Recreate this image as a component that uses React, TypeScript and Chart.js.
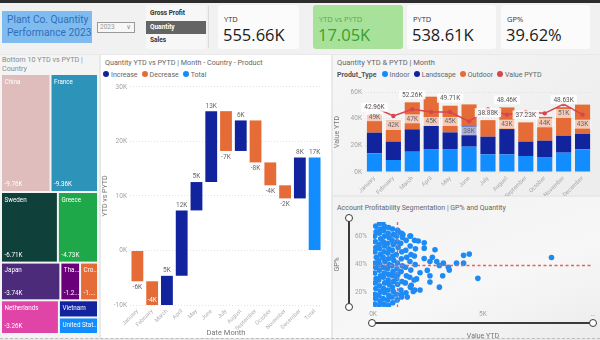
import React, { useEffect, useRef } from "react";
import { Chart, registerables } from "chart.js";
Chart.register(...registerables);

const FONT = "Roboto, 'DejaVu Sans', sans-serif";

// ---------- DATA ----------
const months = ["January", "February", "March", "April", "May", "June", "July", "August", "September", "October", "November", "December"];

// Waterfall: YTD vs PYTD monthly change (K)
const wfCategories = [...months, "Total"];
const wfDeltas = [-5.65, -4.4, 5.4, 12, 5.2, 13, -7.3, 5.6, -7.7, -4.2, -2.4, 7.5];
const wfTotal = 17.05;

// Stacked bars: YTD quantity by product type (K)
const indoor = [14, 9, 15.2, 17.2, 17.2, 19, 13.2, 13.2, 12, 10.8, 14.5, 17];
const landscape = [15.5, 13.8, 16.8, 17.5, 12.5, 15.7, 13.3, 19, 10.8, 12.7, 12.7, 11.5];
const outdoor = [13.46, 15.7, 20.26, 21.8, 20.01, 16, 12.38, 16.26, 14.43, 17.8, 21.43, 22.03];
const pytd = [48.6, 42, 47, 45, 45, 38, 47, 43, 45, 44, 51, 43];
const totalLabelShown = [true, false, true, false, true, false, true, true, true, false, true, false];
const pytdLabelShown = [true, true, true, true, true, true, false, true, false, true, true, true];

// Treemap: bottom 10 countries YTD vs PYTD (K)
const countries = ["China", "France", "Sweden", "Greece", "Japan", "Thailand", "Croatia", "Netherlands", "Vietnam", "United States"];
const countryDelta = [-9.76, -9.36, -6.71, -4.73, -3.74, -1.24, -1.13, -3.26, -1.12, -1.08];
const countryColors = ["#dfbdbd", "#2e93b9", "#10403a", "#1ea84a", "#4c2b7a", "#6b007b", "#e66c37", "#e044a7", "#12239e", "#118dff"];
const treemapRows: (number | number[])[][] = [[0, 1], [2, 3], [4, 5, 6], [7, [8, 9]]];

// Scatter: value YTD (K) vs GP%
const scatterPoints: [number, number][] = [
  [0.08, 12], [0.12, 16], [0.09, 19], [0.13, 23], [0.1, 27], [0.14, 30], [0.08, 34], [0.12, 38], [0.1, 41], [0.15, 45], [0.09, 49], [0.13, 52], [0.11, 56], [0.08, 60], [0.14, 63], [0.12, 67],
  [0.28, 11], [0.32, 14], [0.27, 18], [0.33, 21], [0.3, 25], [0.26, 29], [0.34, 32], [0.29, 36], [0.31, 40], [0.27, 43], [0.33, 47], [0.3, 51], [0.28, 54], [0.35, 58], [0.29, 62], [0.32, 65], [0.3, 69],
  [0.5, 12], [0.46, 16], [0.52, 20], [0.48, 23], [0.53, 27], [0.47, 31], [0.51, 34], [0.49, 38], [0.54, 42], [0.46, 45], [0.5, 49], [0.52, 53], [0.47, 56], [0.53, 60], [0.49, 64], [0.51, 67], [0.45, 70],
  [0.7, 11], [0.67, 15], [0.72, 18], [0.68, 22], [0.73, 26], [0.69, 29], [0.71, 33], [0.66, 37], [0.74, 40], [0.7, 44], [0.68, 48], [0.72, 51], [0.67, 55], [0.73, 59], [0.69, 62], [0.71, 66],
  [0.9, 13], [0.87, 17], [0.92, 21], [0.88, 24], [0.93, 28], [0.89, 32], [0.91, 35], [0.86, 39], [0.94, 43], [0.9, 46], [0.88, 50], [0.92, 54], [0.87, 57], [0.93, 61], [0.89, 65],
  [1.1, 15], [1.07, 19], [1.12, 26], [1.08, 30], [1.13, 33], [1.09, 37], [1.11, 41], [1.06, 47], [1.14, 52], [1.1, 56], [1.08, 60], [1.12, 64],
  [1.3, 17], [1.27, 22], [1.32, 28], [1.28, 35], [1.33, 39], [1.29, 44], [1.31, 49], [1.26, 55], [1.34, 59], [1.3, 62],
  [1.5, 20], [1.47, 27], [1.52, 32], [1.48, 38], [1.53, 45], [1.49, 50], [1.51, 57],
  [1.7, 24], [1.67, 31], [1.72, 36], [1.68, 42], [1.73, 47], [1.69, 53], [1.71, 60],
  [1.9, 22], [1.87, 29], [1.92, 40], [1.88, 46], [1.93, 51], [1.89, 57],
  [1.56, 17], [1.3, 18.7], [1.74, 25.3], [1.83, 21], [1.98, 29.8], [2.14, 22], [2.14, 34.2], [2.06, 56.5], [1.68, 60], [1.36, 61], [1.15, 63],
  [2.33, 55.3], [2.33, 51.5], [2.33, 44.2], [2.47, 35.8], [2.59, 42], [2.59, 32], [2.59, 27.6], [2.82, 50.4], [2.7, 45], [2.9, 42],
  [3.02, 24], [3.02, 39.3], [3.17, 32], [3.2, 40.9], [3.43, 38], [3.47, 36], [3.8, 40.9], [4.12, 40.9], [4.12, 46.4], [4.38, 47.3], [4.77, 30.2], [8.12, 44.9],
];
const avgValueK = 1.08;
const avgGP = 39.62;

// KPI cards
const kpiLabels = ["YTD", "YTD vs PYTD", "PYTD", "GP%"];
const kpiValues = ["555.66K", "17.05K", "538.61K", "39.62%"];
const slicerOptions = ["Gross Profit", "Quantity", "Sales"];

// ---------- COLORS ----------
const C_INC = "#12239e";
const C_DEC = "#e66c37";
const C_TOT = "#118dff";
const C_IND = "#118dff";
const C_LAN = "#12239e";
const C_OUT = "#e66c37";
const C_PY = "#d64550";
const TICK = "#a3a3a3";

// ---------- CHART CONFIGS ----------
function waterfallConfig(): any {
  const floating: number[][] = [];
  const colors: string[] = [];
  let run = 0;
  wfDeltas.forEach((d) => {
    floating.push([run, run + d]);
    colors.push(d >= 0 ? C_INC : C_DEC);
    run += d;
  });
  floating.push([0, wfTotal]);
  colors.push(C_TOT);
  const labelPlugin = {
    id: "wfLabels",
    afterDatasetsDraw(chart: any) {
      const { ctx, chartArea } = chart;
      const meta = chart.getDatasetMeta(0);
      ctx.save();
      ctx.font = `6.5px ${FONT}`;
      ctx.textAlign = "center";
      meta.data.forEach((bar: any, i: number) => {
        const [a, b] = chart.data.datasets[0].data[i];
        const d = b - a;
        const txt = Math.round(d) + "K";
        const top = Math.min(bar.y, bar.base);
        const bottom = Math.max(bar.y, bar.base);
        if (d >= 0) {
          ctx.fillStyle = "#666";
          ctx.textBaseline = "bottom";
          ctx.fillText(txt, bar.x, top - 2);
        } else if (bottom + 11 > chartArea.bottom) {
          ctx.fillStyle = "#fff";
          ctx.textBaseline = "bottom";
          ctx.fillText(txt, bar.x, bottom - 2);
        } else {
          ctx.fillStyle = "#666";
          ctx.textBaseline = "top";
          ctx.fillText(txt, bar.x, bottom + 3);
        }
      });
      ctx.restore();
    },
  };
  return {
    type: "bar",
    data: {
      labels: wfCategories,
      datasets: [{ data: floating, backgroundColor: colors, barPercentage: 0.8, categoryPercentage: 1, borderSkipped: false }],
    },
    options: {
      animation: false,
      responsive: true,
      maintainAspectRatio: false,
      layout: { padding: { top: 6, right: 9, left: 0, bottom: 0 } },
      plugins: { legend: { display: false }, tooltip: { enabled: false } },
      scales: {
        x: {
          grid: { display: false, drawTicks: false },
          border: { display: false },
          ticks: { autoSkip: false, minRotation: 45, maxRotation: 45, font: { size: 5.6, family: FONT }, color: "#b0b0b0", padding: 3 },
          title: { display: true, text: "Date Month", font: { size: 7.5, family: FONT }, color: "#777", padding: 0 },
          afterFit: (s: any) => { s.height = 33; },
        },
        y: {
          min: -10,
          max: 30,
          ticks: { stepSize: 10, callback: (v: any) => v + "K", font: { size: 6.5, family: FONT }, color: TICK, padding: 3 },
          grid: { color: "#e2e2e2", drawTicks: false },
          border: { display: false, dash: [1, 2] },
          title: { display: true, text: "YTD vs PYTD", font: { size: 7, family: FONT }, color: "#777", padding: 0 },
          afterFit: (s: any) => { s.width = 29; },
        },
      },
    },
    plugins: [labelPlugin],
  };
}

function stackedConfig(): any {
  const labelPlugin = {
    id: "stackLabels",
    afterDatasetsDraw(chart: any) {
      const { ctx } = chart;
      ctx.save();
      ctx.font = `6.5px ${FONT}`;
      ctx.textAlign = "center";
      ctx.textBaseline = "middle";
      const lineMeta = chart.getDatasetMeta(3);
      lineMeta.data.forEach((pt: any, i: number) => {
        if (!pytdLabelShown[i]) return;
        const txt = Math.round(pytd[i]) + "K";
        const w = ctx.measureText(txt).width + 6;
        ctx.fillStyle = "rgba(255,255,255,0.65)";
        ctx.fillRect(pt.x - w / 2, pt.y + 5, w, 9);
        ctx.fillStyle = "#666";
        ctx.fillText(txt, pt.x, pt.y + 9.8);
      });
      const topMeta = chart.getDatasetMeta(2);
      topMeta.data.forEach((bar: any, i: number) => {
        if (!totalLabelShown[i]) return;
        const tot = indoor[i] + landscape[i] + outdoor[i];
        const txt = tot.toFixed(2) + "K";
        const w = ctx.measureText(txt).width + 6;
        ctx.fillStyle = "rgba(255,255,255,0.85)";
        ctx.fillRect(bar.x - w / 2, bar.y - 12, w, 9);
        ctx.fillStyle = "#555";
        ctx.fillText(txt, bar.x, bar.y - 7.2);
      });
      ctx.restore();
    },
  };
  const bar = (label: string, data: number[], color: string) => ({
    type: "bar", label, data, backgroundColor: color, stack: "ytd", order: 1, barPercentage: 0.8, categoryPercentage: 1,
  });
  return {
    type: "bar",
    data: {
      labels: months,
      datasets: [
        bar("Indoor", indoor, C_IND),
        bar("Landscape", landscape, C_LAN),
        bar("Outdoor", outdoor, C_OUT),
        { type: "line", label: "Value PYTD", data: pytd, stack: "pytd", order: 0, borderColor: C_PY, backgroundColor: C_PY, borderWidth: 1.5, pointRadius: 2.2, pointBorderWidth: 0, tension: 0 },
      ],
    },
    options: {
      animation: false,
      responsive: true,
      maintainAspectRatio: false,
      layout: { padding: { top: 10, right: 6, left: 0, bottom: 0 } },
      plugins: { legend: { display: false }, tooltip: { enabled: false } },
      scales: {
        x: {
          stacked: true,
          grid: { display: false, drawTicks: false },
          border: { display: false },
          ticks: { autoSkip: false, minRotation: 45, maxRotation: 45, font: { size: 5.8, family: FONT }, color: "#a8a8a8", padding: 3 },
          afterFit: (s: any) => { s.height = 24; },
        },
        y: {
          stacked: true,
          min: 0,
          max: 60,
          ticks: { stepSize: 20, callback: (v: any) => v + "K", font: { size: 6.5, family: FONT }, color: TICK, padding: 3 },
          grid: { color: "#e0e0e0", drawTicks: false },
          border: { display: false, dash: [1, 2] },
          title: { display: true, text: "Value YTD", font: { size: 7, family: FONT }, color: "#777", padding: 0 },
          afterFit: (s: any) => { s.width = 32; },
        },
      },
    },
    plugins: [labelPlugin],
  };
}

function scatterConfig(): any {
  const avgPlugin = {
    id: "avgLines",
    afterDatasetsDraw(chart: any) {
      const { ctx, chartArea, scales } = chart;
      ctx.save();
      ctx.strokeStyle = "#f25c57";
      ctx.lineWidth = 1.3;
      ctx.setLineDash([3, 2.5]);
      const px = Math.round(scales.x.getPixelForValue(avgValueK)) + 0.5;
      ctx.beginPath();
      ctx.moveTo(px, chartArea.top);
      ctx.lineTo(px, chartArea.bottom);
      ctx.stroke();
      const py = Math.round(scales.y.getPixelForValue(avgGP)) + 0.5;
      ctx.beginPath();
      ctx.moveTo(chartArea.left, py);
      ctx.lineTo(chartArea.right, py);
      ctx.stroke();
      ctx.restore();
    },
  };
  return {
    type: "scatter",
    data: {
      datasets: [{ data: scatterPoints.map(([x, y]) => ({ x, y })), backgroundColor: "#1e8bf5", pointRadius: 2.8, pointBorderWidth: 0 }],
    },
    options: {
      animation: false,
      responsive: true,
      maintainAspectRatio: false,
      layout: { padding: { top: 6, right: 5, left: 0, bottom: 0 } },
      plugins: { legend: { display: false }, tooltip: { enabled: false } },
      scales: {
        x: {
          type: "linear",
          min: 0,
          max: 10,
          grid: { display: false, drawTicks: false },
          border: { display: false },
          afterBuildTicks: (s: any) => { s.ticks = [{ value: 0 }, { value: 5 }, { value: 10 }]; },
          ticks: { autoSkip: false, callback: (v: any) => (v === 10 ? "…" : v + "K"), font: { size: 6.5, family: FONT }, color: TICK, padding: 3, maxRotation: 0 },
          title: { display: true, text: "Value YTD", font: { size: 7, family: FONT }, color: "#777", padding: 0 },
          afterFit: (s: any) => { s.height = 33; },
        },
        y: {
          min: 10,
          max: 70,
          grid: { display: false, drawTicks: false },
          border: { display: false },
          afterBuildTicks: (s: any) => { s.ticks = [{ value: 20 }, { value: 40 }, { value: 60 }]; },
          ticks: { autoSkip: false, callback: (v: any) => v + "%", font: { size: 6.5, family: FONT }, color: TICK, padding: 6 },
          title: { display: true, text: "GP%", font: { size: 7, family: FONT }, color: "#777", padding: 0 },
          afterFit: (s: any) => { s.width = 40; },
        },
      },
    },
    plugins: [avgPlugin],
  };
}

function treemapConfig(): any {
  const sizes = countryDelta.map((v) => Math.abs(v));
  const total = sizes.reduce((a, b) => a + b, 0);
  const plugin = {
    id: "treemap",
    afterDraw(chart: any) {
      const { ctx, scales } = chart;
      const xs = scales.x;
      const ys = scales.y;
      let y0 = 0;
      ctx.save();
      ctx.font = `6.3px ${FONT}`;
      ctx.textBaseline = "top";
      const fit = (txt: string, maxW: number) => {
        if (ctx.measureText(txt).width <= maxW) return txt;
        let t = txt;
        while (t.length > 1 && ctx.measureText(t + "...").width > maxW) t = t.slice(0, -1);
        return t + "...";
      };
      treemapRows.forEach((row) => {
        const rowSum = row.reduce((acc: number, it) => acc + (Array.isArray(it) ? it.reduce((a, i) => a + sizes[i], 0) : sizes[it]), 0);
        let x0 = 0;
        row.forEach((it) => {
          const idxs = Array.isArray(it) ? it : [it];
          const s = idxs.reduce((a, i) => a + sizes[i], 0);
          const w = s / rowSum;
          let yy = y0;
          idxs.forEach((i) => {
            const hh = rowSum * (sizes[i] / s);
            const l = xs.getPixelForValue(x0) + 1;
            const r = xs.getPixelForValue(x0 + w) - 1;
            const t = ys.getPixelForValue(yy) + 1;
            const b = ys.getPixelForValue(yy + hh) - 1;
            ctx.fillStyle = countryColors[i];
            ctx.fillRect(l, t, r - l, b - t);
            ctx.fillStyle = "#ffffff";
            ctx.fillText(fit(countries[i], r - l - 1), l + 2.5, t + 4);
            if (b - t > 24) {
              ctx.textBaseline = "bottom";
              ctx.fillText(fit(countryDelta[i].toFixed(2) + "K", r - l - 1), l + 2.5, b - 3);
              ctx.textBaseline = "top";
            }
            yy += hh;
          });
          x0 += w;
        });
        y0 += rowSum;
      });
      ctx.restore();
    },
  };
  return {
    type: "scatter",
    data: { datasets: [] },
    options: {
      animation: false,
      responsive: true,
      maintainAspectRatio: false,
      layout: { padding: 0 },
      plugins: { legend: { display: false }, tooltip: { enabled: false } },
      scales: {
        x: { type: "linear", min: 0, max: 1, display: false },
        y: { type: "linear", min: 0, max: total, reverse: true, display: false },
      },
    },
    plugins: [plugin],
  };
}

// ---------- COMPONENTS ----------
function ChartBox({ make, style }: { make: () => any; style: React.CSSProperties }) {
  const ref = useRef<HTMLCanvasElement>(null);
  useEffect(() => {
    const chart = new Chart(ref.current as HTMLCanvasElement, make());
    return () => chart.destroy();
  }, []);
  return (
    <div style={{ position: "absolute", ...style }}>
      <canvas ref={ref} />
    </div>
  );
}

const abs = (l: number, t: number, w: number, h: number): React.CSSProperties => ({ position: "absolute", left: l, top: t, width: w, height: h });

function Dot({ color }: { color: string }) {
  return <span style={{ display: "inline-block", width: 6, height: 6, borderRadius: 3, background: color, marginRight: 2, verticalAlign: "middle", position: "relative", top: -1 }} />;
}

function Legend({ left, top, title, items }: { left: number; top: number; title?: string; items: [string, string][] }) {
  return (
    <div style={{ position: "absolute", left, top, fontSize: 7, color: "#666", fontFamily: FONT, whiteSpace: "nowrap", lineHeight: "9px" }}>
      {title && <span style={{ fontWeight: 700, color: "#555", marginRight: 5 }}>{title}</span>}
      {items.map(([label, color]) => (
        <span key={label} style={{ marginRight: 4 }}>
          <Dot color={color} />
          {label}
        </span>
      ))}
    </div>
  );
}

function Kpi({ left, width, label, value, green }: { left: number; width: number; label: string; value: string; green?: boolean }) {
  return (
    <div style={{ ...abs(left, 5, width, 44), background: green ? "#a8e29a" : "#fbfbfb", borderRadius: 3 }}>
      <div style={{ position: "absolute", left: 6, top: 9, fontSize: 7.5, color: green ? "#5aa84a" : "#333", fontFamily: "'Open Sans', sans-serif" }}>{label}</div>
      <div style={{ position: "absolute", left: 5, top: 19, fontSize: 16.5, color: green ? "#3c9e2e" : "#1c1c1c", fontFamily: "'Open Sans', sans-serif", lineHeight: "22px" }}>{value}</div>
    </div>
  );
}

export default function App() {
  const panelTitle: React.CSSProperties = { position: "absolute", fontSize: 7.2, color: "#666", fontFamily: FONT, whiteSpace: "nowrap" };
  return (
    <div style={{ position: "fixed", left: 0, top: 0, width: 600, height: 340, background: "#e9e9e9", overflow: "hidden", fontFamily: FONT }}>
      {/* header */}
      <div style={{ ...abs(0, 0, 600, 54), background: "#f1f1f1" }} />
      <div style={{ ...abs(0, 0, 600, 3), background: "#2d2d2d" }} />
      <div style={{ ...abs(2, 11, 90, 32), background: "#80bbf0", color: "#2f6fb6", fontSize: 10.2, lineHeight: "12.5px", padding: "3px 0 0 5px", boxSizing: "border-box", fontFamily: FONT, whiteSpace: "nowrap" }}>
        Plant Co. Quantity
        <br />
        Performance 2023
      </div>
      <div style={{ ...abs(97, 22, 38, 11), border: "1px solid #9a9a9a", boxSizing: "border-box", background: "#f7f7f7", fontSize: 6.5, color: "#999", lineHeight: "9px", paddingLeft: 2 }}>
        2023<span style={{ position: "absolute", right: 3, top: 0, color: "#888" }}>∨</span>
      </div>
      <div style={{ ...abs(146, 5, 60, 44), background: "#f7f7f7" }}>
        {slicerOptions.map((o, i) => (
          <div key={o} style={{ ...abs(0, 2 + i * 13.5, 60, 13), background: o === "Quantity" ? "#646464" : "transparent", color: o === "Quantity" ? "#fff" : "#333", fontSize: 6.5, fontWeight: 700, lineHeight: "13px", paddingLeft: 4, boxSizing: "border-box" }}>
            {o}
          </div>
        ))}
      </div>
      <div style={{ ...abs(208, 6, 1, 42), background: "#dcdcdc" }} />
      <Kpi left={218} width={81} label={kpiLabels[0]} value={kpiValues[0]} />
      <Kpi left={313} width={90} label={kpiLabels[1]} value={kpiValues[1]} green />
      <Kpi left={407} width={89} label={kpiLabels[2]} value={kpiValues[2]} />
      <Kpi left={501} width={89} label={kpiLabels[3]} value={kpiValues[3]} />

      {/* left treemap panel */}
      <div style={{ ...abs(0, 55, 99, 283), background: "#f4f4f4" }} />
      <div style={{ ...panelTitle, left: 2, top: 56, color: "#8a8a8a", lineHeight: "8.5px" }}>
        Bottom 10 YTD vs PYTD |
        <br />
        Country
      </div>
      <ChartBox make={treemapConfig} style={abs(1, 74, 97, 260)} />

      {/* middle waterfall panel */}
      <div style={{ ...abs(101, 55, 230, 283), background: "#ffffff" }} />
      <div style={{ ...panelTitle, left: 105, top: 58 }}>Quantity YTD vs PYTD | Month - Country - Product</div>
      <Legend left={103} top={71} items={[["Increase", C_INC], ["Decrease", C_DEC], ["Total", C_TOT]]} />
      <ChartBox make={waterfallConfig} style={abs(101, 80, 230, 258)} />

      {/* right top */}
      <div style={{ ...abs(333, 55, 267, 140), background: "linear-gradient(135deg,#f6f6f6,#ededed)" }} />
      <div style={{ ...panelTitle, left: 337, top: 58, fontSize: 7.5 }}>Quantity YTD &amp; PYTD | Month</div>
      <Legend left={337} top={71} title="Produt_Type" items={[["Indoor", C_IND], ["Landscape", C_LAN], ["Outdoor", C_OUT], ["Value PYTD", C_PY]]} />
      <ChartBox make={stackedConfig} style={abs(333, 82, 265, 114)} />

      {/* right bottom */}
      <div style={{ ...abs(333, 197, 267, 141), background: "linear-gradient(160deg,#f2f2f2,#f7f7f7 60%,#ececec)" }} />
      <div style={{ ...panelTitle, left: 337, top: 204, fontSize: 7 }}>Account Profitability Segmentation | GP% and Quantity</div>
      <ChartBox make={scatterConfig} style={abs(333, 212, 265, 128)} />
      {/* slicer handles */}
      <div style={{ ...abs(348, 218, 2, 89), background: "#3a3a3a" }} />
      <div style={{ ...abs(345, 214, 8, 8), borderRadius: 5, border: "1.3px solid #3a3a3a", background: "#fff", boxSizing: "border-box" }} />
      <div style={{ ...abs(345, 303, 8, 8), borderRadius: 5, border: "1.3px solid #3a3a3a", background: "#fff", boxSizing: "border-box" }} />
      <div style={{ ...abs(372, 322, 222, 2), background: "#3a3a3a" }} />
      <div style={{ ...abs(368, 319, 8, 8), borderRadius: 5, border: "1.3px solid #3a3a3a", background: "#fff", boxSizing: "border-box" }} />
      <div style={{ ...abs(589, 319, 8, 8), borderRadius: 5, border: "1.3px solid #3a3a3a", background: "#fff", boxSizing: "border-box" }} />
      <div style={{ ...abs(0, 338, 600, 0), borderTop: "1px dashed #bdbdbd" }} />
    </div>
  );
}
